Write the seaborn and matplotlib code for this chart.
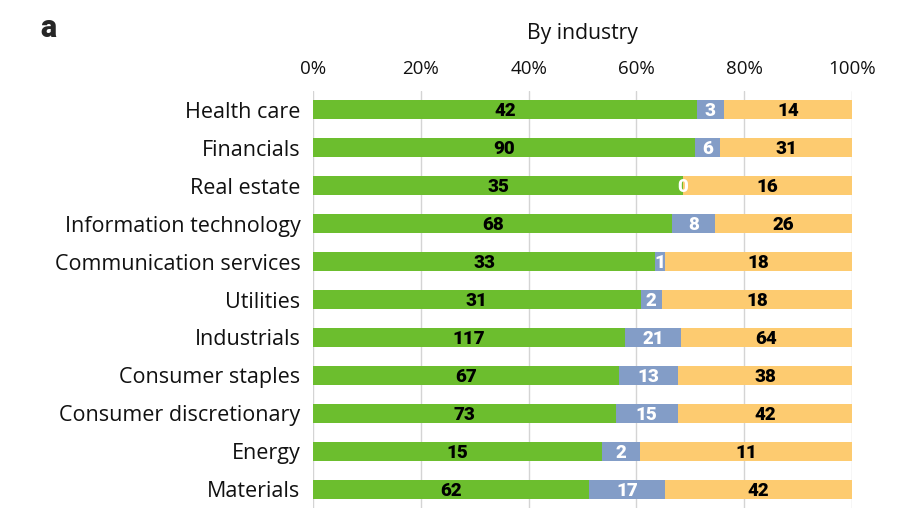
import numpy as np
import pandas as pd
import matplotlib
matplotlib.use("Agg")
import matplotlib.pyplot as plt
import seaborn as sns

industries = ["Health care", "Financials", "Real estate", "Information technology",
              "Communication services", "Utilities", "Industrials", "Consumer staples",
              "Consumer discretionary", "Energy", "Materials"]
green_vals = [42, 90, 35, 68, 33, 31, 117, 67, 73, 15, 62]
blue_vals = [3, 6, 0, 8, 1, 2, 21, 13, 15, 2, 17]
orange_vals = [14, 31, 16, 26, 18, 18, 64, 38, 42, 11, 42]
xtick_labels = ["0%", "20%", "40%", "60%", "80%", "100%"]

GREEN = "#6CBE2E"
BLUE = "#839DC7"
ORANGE = "#FDCB70"

sns.set_theme(style="white")
plt.rcParams["font.family"] = ["Open Sans", "DejaVu Sans"]

g = np.array(green_vals, float)
b = np.array(blue_vals, float)
o = np.array(orange_vals, float)
tot = g + b + o
gp = g / tot * 100
bp = b / tot * 100
op = o / tot * 100

df = pd.DataFrame({"industry": industries, "g": gp, "gb": gp + bp, "all": gp + bp + op})

fig = plt.figure(figsize=(8.97, 5.19), dpi=100)
ax = fig.add_axes([313 / 897, 1 - 508 / 519, (852 - 313) / 897, (508 - 91) / 519])

for col, color in [("all", ORANGE), ("gb", BLUE), ("g", GREEN)]:
    sns.barplot(data=df, x=col, y="industry", color=color, width=0.5,
                saturation=1, ax=ax, orient="h", linewidth=0, zorder=3)

ax.set_xlim(0, 100)
ax.set_ylim(len(industries) - 0.5, -0.5)
ax.set_xticks([0, 20, 40, 60, 80, 100])
ax.set_xticklabels(xtick_labels)
ax.xaxis.tick_top()
ax.xaxis.set_label_position("top")
ax.set_xlabel("")
ax.set_ylabel("")
ax.tick_params(axis="x", length=0, pad=9, labelsize=13.5, colors="#111111")
ax.tick_params(axis="y", length=0, pad=9, labelsize=15.5, colors="#111111")
for s in ax.spines.values():
    s.set_visible(False)
ax.grid(axis="x", color="#D4D4D4", linewidth=1, zorder=0)
ax.set_axisbelow(True)

numfont = dict(family=["Roboto", "DejaVu Sans"], fontsize=13.5, fontweight=900, zorder=5)
for i in range(len(industries)):
    ax.text(gp[i] / 2, i + 0.04, str(green_vals[i]), ha="center", va="center",
            color="black", **numfont)
    ax.text(gp[i] + bp[i] / 2, i + 0.04, str(blue_vals[i]), ha="center", va="center",
            color="white", **numfont)
    ax.text(gp[i] + bp[i] + op[i] / 2, i + 0.04, str(orange_vals[i]), ha="center", va="center",
            color="black", **numfont)

fig.text(40 / 897, 1 - 28 / 519, "a", fontsize=22, fontweight=900, va="center", ha="left",
         family=["Roboto", "DejaVu Sans"])
fig.text(582 / 897, 1 - 33 / 519, "By industry", fontsize=15.2, va="center", ha="center",
         color="#111111")

fig.savefig("out.png", dpi=100)
